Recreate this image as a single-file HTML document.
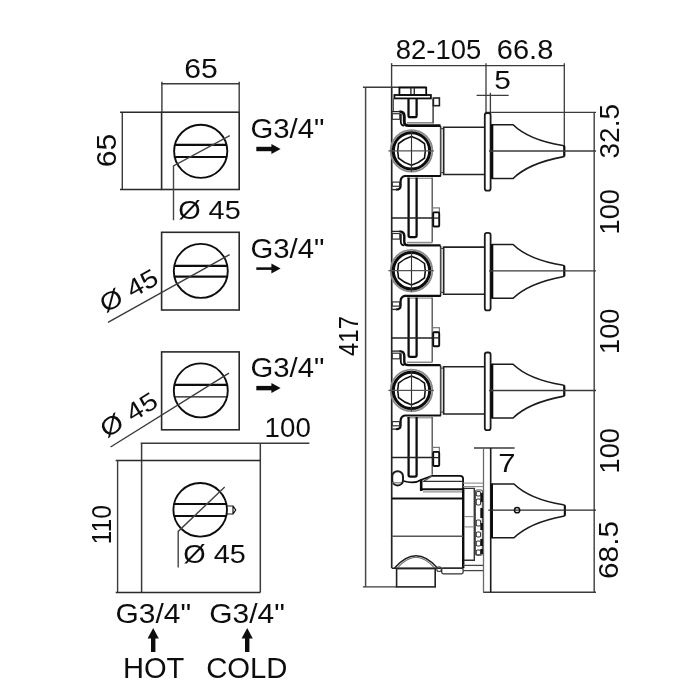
<!DOCTYPE html>
<html><head><meta charset="utf-8"><title>drawing</title>
<style>
html,body{margin:0;padding:0;background:#fff;width:700px;height:700px;overflow:hidden}
svg{display:block;will-change:transform}
text{font-family:"Liberation Sans",sans-serif;fill:#111}
</style></head><body>
<svg width="700" height="700" viewBox="0 0 700 700">
<defs><filter id="soft" x="0" y="0" width="700" height="700" filterUnits="userSpaceOnUse"><feGaussianBlur stdDeviation="0.42"/></filter></defs>
<rect x="0" y="0" width="700" height="700" fill="#fff"/>
<g filter="url(#soft)">
<rect x="161.6" y="112.2" width="77.6" height="77.3" rx="0" stroke="#2a2a2a" stroke-width="1.6" fill="none"/>
<line x1="161.9" y1="81.8" x2="161.9" y2="112.2" stroke="#3a3a3a" stroke-width="1.4" stroke-linecap="butt"/>
<line x1="239.2" y1="81.8" x2="239.2" y2="112.2" stroke="#3a3a3a" stroke-width="1.4" stroke-linecap="butt"/>
<line x1="161.2" y1="83.8" x2="239.9" y2="83.8" stroke="#3a3a3a" stroke-width="1.4" stroke-linecap="butt"/>
<line x1="122.3" y1="112.2" x2="122.3" y2="189.5" stroke="#3a3a3a" stroke-width="1.4" stroke-linecap="butt"/>
<line x1="120" y1="112.2" x2="161.6" y2="112.2" stroke="#2a2a2a" stroke-width="1.6" stroke-linecap="butt"/>
<line x1="120" y1="189.5" x2="161.6" y2="189.5" stroke="#2a2a2a" stroke-width="1.6" stroke-linecap="butt"/>
<text x="184.2" y="78" font-size="27" text-anchor="start" font-weight="normal" textLength="33.5" lengthAdjust="spacingAndGlyphs">65</text>
<text x="116" y="167.2" font-size="27" text-anchor="start" font-weight="normal" textLength="33.5" lengthAdjust="spacingAndGlyphs" transform="rotate(-90 116 167.2)">65</text>
<circle cx="200.7" cy="151.3" r="26.6" stroke="#111" stroke-width="1.9" fill="none"/>
<line x1="174.9" y1="144.9" x2="226.5" y2="144.9" stroke="#111" stroke-width="2.2" stroke-linecap="butt"/>
<line x1="174.7" y1="157.0" x2="226.7" y2="157.0" stroke="#111" stroke-width="2.2" stroke-linecap="butt"/>
<path d="M229.8,135.7 L173.5,166 L173.5,220.3" stroke="#444" stroke-width="1.4" fill="none" stroke-linejoin="miter" stroke-linecap="butt"/>
<text x="178.2" y="218.5" font-size="25" text-anchor="start" font-weight="normal" textLength="62.5" lengthAdjust="spacingAndGlyphs">&#216; 45</text>
<text x="250.4" y="137.9" font-size="28" text-anchor="start" font-weight="normal" textLength="74" lengthAdjust="spacingAndGlyphs">G3/4"</text>
<path d="M256.3,146.8 H272.90000000000003 V151.2 H256.3 Z" fill="#111"/>
<path d="M271.40000000000003,144 L280.6,149 L271.40000000000003,154 Z" fill="#111"/>
<text x="250.4" y="257.7" font-size="28" text-anchor="start" font-weight="normal" textLength="74" lengthAdjust="spacingAndGlyphs">G3/4"</text>
<path d="M256.3,267.3 H272.90000000000003 V269.90000000000003 H256.3 Z" fill="#111"/>
<path d="M271.40000000000003,263.6 L280.6,268.6 L271.40000000000003,273.6 Z" fill="#111"/>
<text x="250.4" y="376.8" font-size="28" text-anchor="start" font-weight="normal" textLength="74" lengthAdjust="spacingAndGlyphs">G3/4"</text>
<path d="M256.3,385.90000000000003 H272.90000000000003 V390.3 H256.3 Z" fill="#111"/>
<path d="M271.40000000000003,383.1 L280.6,388.1 L271.40000000000003,393.1 Z" fill="#111"/>
<rect x="161.6" y="232.3" width="77.6" height="77.7" rx="0" stroke="#2a2a2a" stroke-width="1.6" fill="none"/>
<circle cx="200.8" cy="270.9" r="27" stroke="#111" stroke-width="1.9" fill="none"/>
<line x1="174.3" y1="265.8" x2="227.3" y2="265.8" stroke="#111" stroke-width="2.2" stroke-linecap="butt"/>
<line x1="174.4" y1="276.6" x2="227.2" y2="276.6" stroke="#111" stroke-width="2.2" stroke-linecap="butt"/>
<line x1="229.6" y1="254.7" x2="108" y2="322.3" stroke="#3a3a3a" stroke-width="1.4" stroke-linecap="butt"/>
<g transform="translate(128.6,290.7) rotate(-29)">
<text x="-31" y="8.5" font-size="25" text-anchor="start" font-weight="normal" textLength="62.5" lengthAdjust="spacingAndGlyphs">&#216; 45</text>
</g>
<rect x="161.6" y="351.9" width="77.6" height="77.9" rx="0" stroke="#2a2a2a" stroke-width="1.6" fill="none"/>
<circle cx="200.8" cy="390.4" r="27" stroke="#111" stroke-width="1.9" fill="none"/>
<line x1="174.4" y1="384.8" x2="227.2" y2="384.8" stroke="#111" stroke-width="2.2" stroke-linecap="butt"/>
<line x1="174.6" y1="396.9" x2="227.0" y2="396.9" stroke="#111" stroke-width="1.1" stroke-linecap="butt"/>
<line x1="228.9" y1="373.2" x2="110.6" y2="447" stroke="#3a3a3a" stroke-width="1.4" stroke-linecap="butt"/>
<g transform="translate(128.6,414.9) rotate(-32)">
<text x="-31" y="8.5" font-size="25" text-anchor="start" font-weight="normal" textLength="62.5" lengthAdjust="spacingAndGlyphs">&#216; 45</text>
</g>
<line x1="140.7" y1="443.3" x2="309.4" y2="443.3" stroke="#3a3a3a" stroke-width="1.4" stroke-linecap="butt"/>
<line x1="141.6" y1="443.3" x2="141.6" y2="592.5" stroke="#3a3a3a" stroke-width="1.5" stroke-linecap="butt"/>
<line x1="260.3" y1="443.3" x2="260.3" y2="592.5" stroke="#3a3a3a" stroke-width="1.5" stroke-linecap="butt"/>
<line x1="115.7" y1="460.5" x2="260.3" y2="460.5" stroke="#2a2a2a" stroke-width="1.5" stroke-linecap="butt"/>
<line x1="115.7" y1="592.5" x2="260.3" y2="592.5" stroke="#2a2a2a" stroke-width="1.5" stroke-linecap="butt"/>
<line x1="117.6" y1="460.5" x2="117.6" y2="592.5" stroke="#3a3a3a" stroke-width="1.4" stroke-linecap="butt"/>
<text x="264.6" y="436.8" font-size="27" text-anchor="start" font-weight="normal" textLength="46.2" lengthAdjust="spacingAndGlyphs">100</text>
<text x="110.8" y="544.4" font-size="27" text-anchor="start" font-weight="normal" textLength="39.5" lengthAdjust="spacingAndGlyphs" transform="rotate(-90 110.8 544.4)">110</text>
<circle cx="200.2" cy="509.8" r="26.8" stroke="#111" stroke-width="1.9" fill="none"/>
<line x1="174.0" y1="504" x2="226.4" y2="504" stroke="#111" stroke-width="2.2" stroke-linecap="butt"/>
<line x1="174.1" y1="516" x2="226.3" y2="516" stroke="#111" stroke-width="2.2" stroke-linecap="butt"/>
<path d="M227,506 H233 L235.7,510 L233,514 H227 M233,506 V514" stroke="#111" stroke-width="1.2" fill="none" stroke-linejoin="miter" stroke-linecap="butt"/>
<path d="M224.7,486.9 L178.2,531.4 L178.2,567.5" stroke="#444" stroke-width="1.4" fill="none" stroke-linejoin="miter" stroke-linecap="butt"/>
<text x="183.3" y="563.3" font-size="25" text-anchor="start" font-weight="normal" textLength="62.5" lengthAdjust="spacingAndGlyphs">&#216; 45</text>
<text x="115.6" y="622.8" font-size="28" text-anchor="start" font-weight="normal" textLength="75.5" lengthAdjust="spacingAndGlyphs">G3/4"</text>
<text x="209.3" y="622.8" font-size="28" text-anchor="start" font-weight="normal" textLength="75.5" lengthAdjust="spacingAndGlyphs">G3/4"</text>
<path d="M151.0,652 V636 H155.39999999999998 V652 Z" fill="#111"/>
<path d="M147.6,638.5 L153.2,628 L158.79999999999998,638.5 Z" fill="#111"/>
<path d="M245.0,652 V636 H249.39999999999998 V652 Z" fill="#111"/>
<path d="M241.6,638.5 L247.2,628 L252.79999999999998,638.5 Z" fill="#111"/>
<text x="122.9" y="677.7" font-size="29.5" text-anchor="start" font-weight="normal" textLength="61.4" lengthAdjust="spacingAndGlyphs">HOT</text>
<text x="206.2" y="677.7" font-size="29.5" text-anchor="start" font-weight="normal" textLength="81.3" lengthAdjust="spacingAndGlyphs">COLD</text>
<line x1="391.3" y1="65.6" x2="564.6" y2="65.6" stroke="#3a3a3a" stroke-width="1.4" stroke-linecap="butt"/>
<line x1="391.6" y1="63.2" x2="391.6" y2="88" stroke="#3a3a3a" stroke-width="1.4" stroke-linecap="butt"/>
<line x1="486.0" y1="63.2" x2="486.0" y2="113" stroke="#3a3a3a" stroke-width="1.3" stroke-linecap="butt"/>
<line x1="564.3" y1="63.2" x2="564.3" y2="146" stroke="#3a3a3a" stroke-width="1.3" stroke-linecap="butt"/>
<text x="395.8" y="59" font-size="27" text-anchor="start" font-weight="normal" textLength="85.5" lengthAdjust="spacingAndGlyphs">82-105</text>
<text x="496.8" y="59" font-size="27" text-anchor="start" font-weight="normal" textLength="56.5" lengthAdjust="spacingAndGlyphs">66.8</text>
<line x1="476.6" y1="95.4" x2="508.6" y2="95.4" stroke="#3a3a3a" stroke-width="1.3" stroke-linecap="butt"/>
<line x1="490.4" y1="92.8" x2="490.4" y2="113" stroke="#3a3a3a" stroke-width="1.3" stroke-linecap="butt"/>
<text x="494.3" y="88.8" font-size="26.5" text-anchor="start" font-weight="normal" textLength="16.6" lengthAdjust="spacingAndGlyphs">5</text>
<line x1="362.9" y1="87.3" x2="426" y2="87.3" stroke="#3a3a3a" stroke-width="1.4" stroke-linecap="butt"/>
<line x1="365.6" y1="87.3" x2="365.6" y2="586.9" stroke="#4a4a4a" stroke-width="1.5" stroke-linecap="butt"/>
<line x1="362.9" y1="586.9" x2="396.6" y2="586.9" stroke="#3a3a3a" stroke-width="1.4" stroke-linecap="butt"/>
<text x="358" y="356" font-size="27" text-anchor="start" font-weight="normal" textLength="40" lengthAdjust="spacingAndGlyphs" transform="rotate(-90 358 356)">417</text>
<line x1="594.2" y1="112.2" x2="594.2" y2="592.2" stroke="#4a4a4a" stroke-width="1.5" stroke-linecap="butt"/>
<line x1="486" y1="112.4" x2="596" y2="112.4" stroke="#3a3a3a" stroke-width="1.4" stroke-linecap="butt"/>
<line x1="483.2" y1="592.2" x2="596" y2="592.2" stroke="#3a3a3a" stroke-width="1.4" stroke-linecap="butt"/>
<text x="619" y="158.5" font-size="27" text-anchor="start" font-weight="normal" textLength="54.5" lengthAdjust="spacingAndGlyphs" transform="rotate(-90 619 158.5)">32.5</text>
<text x="618.6" y="234.5" font-size="27" text-anchor="start" font-weight="normal" textLength="45.5" lengthAdjust="spacingAndGlyphs" transform="rotate(-90 618.6 234.5)">100</text>
<text x="618.6" y="354" font-size="27" text-anchor="start" font-weight="normal" textLength="45.5" lengthAdjust="spacingAndGlyphs" transform="rotate(-90 618.6 354)">100</text>
<text x="618.6" y="473.5" font-size="27" text-anchor="start" font-weight="normal" textLength="45.5" lengthAdjust="spacingAndGlyphs" transform="rotate(-90 618.6 473.5)">100</text>
<text x="618.2" y="579" font-size="27" text-anchor="start" font-weight="normal" textLength="58" lengthAdjust="spacingAndGlyphs" transform="rotate(-90 618.2 579)">68.5</text>
<line x1="391.7" y1="88" x2="391.7" y2="568" stroke="#222" stroke-width="1.7" stroke-linecap="butt"/>
<line x1="440.6" y1="125.9" x2="440.6" y2="176.3" stroke="#2a2a2a" stroke-width="1.5" stroke-linecap="butt"/>
<line x1="392" y1="111.60000000000001" x2="400" y2="111.60000000000001" stroke="#222" stroke-width="1.3" stroke-linecap="butt"/>
<path d="M399.5,111.60000000000001 Q404.3,111.60000000000001 404.3,116.5 V121.9 Q404.3,125.60000000000001 408.5,125.60000000000001 H440.6" stroke="#111" stroke-width="2.9" fill="none" stroke-linejoin="round" stroke-linecap="butt"/>
<path d="M400.8,113.7 V121.9 Q400.8,125.30000000000001 404.3,125.60000000000001" stroke="#111" stroke-width="1.8" fill="none" stroke-linejoin="miter" stroke-linecap="butt"/>
<rect x="392.2" y="113.7" width="7.6" height="5.6" rx="0" stroke="#333" stroke-width="1.2" fill="none"/>
<line x1="407" y1="122.80000000000001" x2="432.6" y2="122.80000000000001" stroke="#8a8a8a" stroke-width="1.6" stroke-linecap="butt"/>
<path d="M440.8,176.0 H404.8 Q400.6,176.9 400.6,181.4 V185.9 Q400.6,189.60000000000002 396,189.60000000000002" stroke="#111" stroke-width="2.2" fill="none" stroke-linejoin="round" stroke-linecap="butt"/>
<line x1="392" y1="189.60000000000002" x2="396.5" y2="189.60000000000002" stroke="#333" stroke-width="1.4" stroke-linecap="butt"/>
<rect x="392.2" y="182.1" width="7.4" height="4.2" rx="0" stroke="#333" stroke-width="1.2" fill="none"/>
<line x1="407" y1="178.3" x2="432" y2="178.3" stroke="#8a8a8a" stroke-width="1.2" stroke-linecap="butt"/>
<rect x="440.6" y="128.6" width="3.0" height="44.0" rx="0" stroke="#484848" stroke-width="1.2" fill="none"/>
<path d="M484.6,127.30000000000001 H443.6 V174.5 H484.6" stroke="#222" stroke-width="1.6" fill="none" stroke-linejoin="miter" stroke-linecap="butt"/>
<circle cx="411.5" cy="150.9" r="20.8" stroke="#8a8a8a" stroke-width="1.8" fill="none"/>
<circle cx="411.5" cy="150.9" r="18.2" stroke="#111" stroke-width="3.0" fill="none"/>
<path d="M411.5,136.5 Q418.8,138.7 424.5,143.7 Q426.1,150.9 424.5,158.1 Q418.8,163.1 411.5,165.3 Q404.2,163.1 398.5,158.1 Q396.9,150.9 398.5,143.7 Q404.2,138.7 411.5,136.5 Z" stroke="#111" stroke-width="1.6" fill="none" stroke-linejoin="round" stroke-linecap="butt"/>
<line x1="388.4" y1="150.9" x2="433.8" y2="150.9" stroke="#555" stroke-width="1.3" stroke-linecap="butt"/>
<line x1="411.5" y1="131.4" x2="411.5" y2="171.9" stroke="#333" stroke-width="1.1" stroke-linecap="butt"/>
<rect x="484.8" y="113.0" width="5.8" height="77.6" rx="2.2" stroke="#1a1a1a" stroke-width="1.8" fill="none"/>
<path d="M492.1,124.7 H513.1 Q528.6,139.9 562.8,145.5 Q564.3,145.5 564.3,147.0 V155.4 Q564.3,156.9 562.8,156.9 Q528.6,163.3 513.1,178.5 H492.1" stroke="#1a1a1a" stroke-width="1.6" fill="none" stroke-linejoin="round" stroke-linecap="butt"/>
<line x1="492.1" y1="124.2" x2="492.1" y2="179.0" stroke="#111" stroke-width="2.4" stroke-linecap="butt"/>
<line x1="564.3" y1="146.0" x2="564.3" y2="156.4" stroke="#111" stroke-width="2.0" stroke-linecap="butt"/>
<line x1="489" y1="151.0" x2="596" y2="151.0" stroke="#3a3a3a" stroke-width="1.3" stroke-linecap="butt"/>
<path d="M408.6,177.6 V235.5 Q408.6,237.10000000000002 410.2,237.10000000000002 H415 Q416.6,237.10000000000002 416.6,235.5 V177.6" stroke="#111" stroke-width="2.3" fill="none" stroke-linejoin="miter" stroke-linecap="butt"/>
<line x1="432.2" y1="177.6" x2="432.2" y2="242.10000000000002" stroke="#4a4a4a" stroke-width="1.3" stroke-linecap="butt"/>
<line x1="391.7" y1="218.10000000000002" x2="432.2" y2="218.10000000000002" stroke="#222" stroke-width="1.5" stroke-linecap="butt"/>
<rect x="432.6" y="207.9" width="6.8" height="4.5" rx="0" stroke="#777" stroke-width="1.2" fill="none"/>
<rect x="433.2" y="212.4" width="6.0" height="14.1" rx="1" stroke="#111" stroke-width="1.9" fill="none"/>
<line x1="432.2" y1="218.10000000000002" x2="439.4" y2="218.10000000000002" stroke="#222" stroke-width="1.3" stroke-linecap="butt"/>
<line x1="440.6" y1="245.7" x2="440.6" y2="296.09999999999997" stroke="#2a2a2a" stroke-width="1.5" stroke-linecap="butt"/>
<line x1="392" y1="231.39999999999998" x2="400" y2="231.39999999999998" stroke="#222" stroke-width="1.3" stroke-linecap="butt"/>
<path d="M399.5,231.39999999999998 Q404.3,231.39999999999998 404.3,236.29999999999998 V241.7 Q404.3,245.39999999999998 408.5,245.39999999999998 H440.6" stroke="#111" stroke-width="2.4" fill="none" stroke-linejoin="round" stroke-linecap="butt"/>
<path d="M400.8,233.5 V241.7 Q400.8,245.1 404.3,245.39999999999998" stroke="#111" stroke-width="1.8" fill="none" stroke-linejoin="miter" stroke-linecap="butt"/>
<rect x="392.2" y="233.5" width="7.6" height="5.6" rx="0" stroke="#333" stroke-width="1.2" fill="none"/>
<line x1="407" y1="242.6" x2="432.6" y2="242.6" stroke="#8a8a8a" stroke-width="1.6" stroke-linecap="butt"/>
<path d="M440.8,295.8 H404.8 Q400.6,296.7 400.6,301.2 V305.7 Q400.6,309.4 396,309.4" stroke="#111" stroke-width="2.2" fill="none" stroke-linejoin="round" stroke-linecap="butt"/>
<line x1="392" y1="309.4" x2="396.5" y2="309.4" stroke="#333" stroke-width="1.4" stroke-linecap="butt"/>
<rect x="392.2" y="301.9" width="7.4" height="4.2" rx="0" stroke="#333" stroke-width="1.2" fill="none"/>
<line x1="407" y1="298.09999999999997" x2="432" y2="298.09999999999997" stroke="#8a8a8a" stroke-width="1.2" stroke-linecap="butt"/>
<rect x="440.6" y="248.39999999999998" width="3.0" height="44.0" rx="0" stroke="#484848" stroke-width="1.2" fill="none"/>
<path d="M484.6,247.1 H443.6 V294.3 H484.6" stroke="#222" stroke-width="1.6" fill="none" stroke-linejoin="miter" stroke-linecap="butt"/>
<circle cx="411.5" cy="270.7" r="20.8" stroke="#8a8a8a" stroke-width="1.8" fill="none"/>
<circle cx="411.5" cy="270.7" r="18.2" stroke="#111" stroke-width="3.0" fill="none"/>
<path d="M411.5,256.3 Q418.8,258.5 424.5,263.5 Q426.1,270.7 424.5,277.9 Q418.8,282.9 411.5,285.1 Q404.2,282.9 398.5,277.9 Q396.9,270.7 398.5,263.5 Q404.2,258.5 411.5,256.3 Z" stroke="#111" stroke-width="1.6" fill="none" stroke-linejoin="round" stroke-linecap="butt"/>
<line x1="388.4" y1="270.7" x2="433.8" y2="270.7" stroke="#555" stroke-width="1.3" stroke-linecap="butt"/>
<line x1="411.5" y1="251.2" x2="411.5" y2="291.7" stroke="#333" stroke-width="1.1" stroke-linecap="butt"/>
<rect x="484.8" y="232.79999999999998" width="5.8" height="77.6" rx="2.2" stroke="#1a1a1a" stroke-width="1.8" fill="none"/>
<path d="M492.1,244.5 H513.1 Q528.6,259.7 562.8,265.3 Q564.3,265.3 564.3,266.8 V275.2 Q564.3,276.7 562.8,276.7 Q528.6,283.1 513.1,298.3 H492.1" stroke="#1a1a1a" stroke-width="1.6" fill="none" stroke-linejoin="round" stroke-linecap="butt"/>
<line x1="492.1" y1="244.0" x2="492.1" y2="298.8" stroke="#111" stroke-width="2.4" stroke-linecap="butt"/>
<line x1="564.3" y1="265.8" x2="564.3" y2="276.2" stroke="#111" stroke-width="2.0" stroke-linecap="butt"/>
<line x1="489" y1="270.8" x2="596" y2="270.8" stroke="#3a3a3a" stroke-width="1.3" stroke-linecap="butt"/>
<path d="M408.6,297.4 V355.29999999999995 Q408.6,356.9 410.2,356.9 H415 Q416.6,356.9 416.6,355.29999999999995 V297.4" stroke="#111" stroke-width="2.3" fill="none" stroke-linejoin="miter" stroke-linecap="butt"/>
<line x1="432.2" y1="297.4" x2="432.2" y2="361.9" stroke="#4a4a4a" stroke-width="1.3" stroke-linecap="butt"/>
<line x1="391.7" y1="337.9" x2="432.2" y2="337.9" stroke="#222" stroke-width="1.5" stroke-linecap="butt"/>
<rect x="432.6" y="327.7" width="6.8" height="4.5" rx="0" stroke="#777" stroke-width="1.2" fill="none"/>
<rect x="433.2" y="332.2" width="6.0" height="14.1" rx="1" stroke="#111" stroke-width="1.9" fill="none"/>
<line x1="432.2" y1="337.9" x2="439.4" y2="337.9" stroke="#222" stroke-width="1.3" stroke-linecap="butt"/>
<line x1="440.6" y1="365.4" x2="440.6" y2="415.79999999999995" stroke="#2a2a2a" stroke-width="1.5" stroke-linecap="butt"/>
<line x1="392" y1="351.09999999999997" x2="400" y2="351.09999999999997" stroke="#222" stroke-width="1.3" stroke-linecap="butt"/>
<path d="M399.5,351.09999999999997 Q404.3,351.09999999999997 404.3,356.0 V361.4 Q404.3,365.09999999999997 408.5,365.09999999999997 H440.6" stroke="#111" stroke-width="2.4" fill="none" stroke-linejoin="round" stroke-linecap="butt"/>
<path d="M400.8,353.2 V361.4 Q400.8,364.79999999999995 404.3,365.09999999999997" stroke="#111" stroke-width="1.8" fill="none" stroke-linejoin="miter" stroke-linecap="butt"/>
<rect x="392.2" y="353.2" width="7.6" height="5.6" rx="0" stroke="#333" stroke-width="1.2" fill="none"/>
<line x1="407" y1="362.29999999999995" x2="432.6" y2="362.29999999999995" stroke="#8a8a8a" stroke-width="1.6" stroke-linecap="butt"/>
<path d="M440.8,415.5 H404.8 Q400.6,416.4 400.6,420.9 V425.4 Q400.6,429.09999999999997 396,429.09999999999997" stroke="#111" stroke-width="2.2" fill="none" stroke-linejoin="round" stroke-linecap="butt"/>
<line x1="392" y1="429.09999999999997" x2="396.5" y2="429.09999999999997" stroke="#333" stroke-width="1.4" stroke-linecap="butt"/>
<rect x="392.2" y="421.59999999999997" width="7.4" height="4.2" rx="0" stroke="#333" stroke-width="1.2" fill="none"/>
<line x1="407" y1="417.79999999999995" x2="432" y2="417.79999999999995" stroke="#8a8a8a" stroke-width="1.2" stroke-linecap="butt"/>
<rect x="440.6" y="368.09999999999997" width="3.0" height="44.0" rx="0" stroke="#484848" stroke-width="1.2" fill="none"/>
<path d="M484.6,366.79999999999995 H443.6 V414.0 H484.6" stroke="#222" stroke-width="1.6" fill="none" stroke-linejoin="miter" stroke-linecap="butt"/>
<circle cx="411.5" cy="390.4" r="20.8" stroke="#8a8a8a" stroke-width="1.8" fill="none"/>
<circle cx="411.5" cy="390.4" r="18.2" stroke="#111" stroke-width="3.0" fill="none"/>
<path d="M411.5,376.0 Q418.8,378.2 424.5,383.2 Q426.1,390.4 424.5,397.6 Q418.8,402.6 411.5,404.8 Q404.2,402.6 398.5,397.6 Q396.9,390.4 398.5,383.2 Q404.2,378.2 411.5,376.0 Z" stroke="#111" stroke-width="1.6" fill="none" stroke-linejoin="round" stroke-linecap="butt"/>
<line x1="388.4" y1="390.4" x2="433.8" y2="390.4" stroke="#555" stroke-width="1.3" stroke-linecap="butt"/>
<line x1="411.5" y1="370.9" x2="411.5" y2="411.4" stroke="#333" stroke-width="1.1" stroke-linecap="butt"/>
<rect x="484.8" y="352.5" width="5.8" height="77.6" rx="2.2" stroke="#1a1a1a" stroke-width="1.8" fill="none"/>
<path d="M492.1,364.2 H513.1 Q528.6,379.4 562.8,385.0 Q564.3,385.0 564.3,386.5 V394.9 Q564.3,396.4 562.8,396.4 Q528.6,402.8 513.1,418.0 H492.1" stroke="#1a1a1a" stroke-width="1.6" fill="none" stroke-linejoin="round" stroke-linecap="butt"/>
<line x1="492.1" y1="363.7" x2="492.1" y2="418.5" stroke="#111" stroke-width="2.4" stroke-linecap="butt"/>
<line x1="564.3" y1="385.5" x2="564.3" y2="395.9" stroke="#111" stroke-width="2.0" stroke-linecap="butt"/>
<line x1="489" y1="390.5" x2="596" y2="390.5" stroke="#3a3a3a" stroke-width="1.3" stroke-linecap="butt"/>
<path d="M408.6,417.09999999999997 V475.0 Q408.6,476.59999999999997 410.2,476.59999999999997 H415 Q416.6,476.59999999999997 416.6,475.0 V417.09999999999997" stroke="#111" stroke-width="2.3" fill="none" stroke-linejoin="miter" stroke-linecap="butt"/>
<line x1="432.2" y1="417.09999999999997" x2="432.2" y2="474.79999999999995" stroke="#4a4a4a" stroke-width="1.3" stroke-linecap="butt"/>
<line x1="391.7" y1="457.59999999999997" x2="432.2" y2="457.59999999999997" stroke="#222" stroke-width="1.5" stroke-linecap="butt"/>
<rect x="432.6" y="447.4" width="6.8" height="4.5" rx="0" stroke="#777" stroke-width="1.2" fill="none"/>
<rect x="433.2" y="451.9" width="6.0" height="14.1" rx="1" stroke="#111" stroke-width="1.9" fill="none"/>
<line x1="432.2" y1="457.59999999999997" x2="439.4" y2="457.59999999999997" stroke="#222" stroke-width="1.3" stroke-linecap="butt"/>
<rect x="399.4" y="87.6" width="26.8" height="7.4" rx="0" stroke="#111" stroke-width="1.8" fill="none"/>
<line x1="410.9" y1="87.6" x2="410.9" y2="95" stroke="#222" stroke-width="1.3" stroke-linecap="butt"/>
<line x1="414.3" y1="87.6" x2="414.3" y2="95" stroke="#222" stroke-width="1.3" stroke-linecap="butt"/>
<rect x="394.4" y="95" width="36.5" height="3.4" rx="0" stroke="#111" stroke-width="1.8" fill="none"/>
<path d="M408.5,98.4 V115.4 Q408.5,117.1 410.2,117.1 H414.9 Q416.6,117.1 416.6,115.4 V98.4" stroke="#111" stroke-width="2.3" fill="none" stroke-linejoin="miter" stroke-linecap="butt"/>
<line x1="433.1" y1="98.4" x2="433.1" y2="123.6" stroke="#333" stroke-width="1.4" stroke-linecap="butt"/>
<line x1="393.4" y1="98.4" x2="393.4" y2="111" stroke="#555" stroke-width="1.2" stroke-linecap="butt"/>
<rect x="433.4" y="98" width="6.0" height="7.7" rx="0" stroke="#222" stroke-width="1.6" fill="none"/>
<line x1="474" y1="448" x2="514.6" y2="448" stroke="#3a3a3a" stroke-width="1.4" stroke-linecap="butt"/>
<text x="498.2" y="471.6" font-size="26.5" text-anchor="start" font-weight="normal" textLength="17.3" lengthAdjust="spacingAndGlyphs">7</text>
<line x1="483.5" y1="447.9" x2="483.5" y2="592.2" stroke="#6a6a6a" stroke-width="1.3" stroke-linecap="butt"/>
<line x1="490.7" y1="447.9" x2="490.7" y2="592.2" stroke="#1a1a1a" stroke-width="1.6" stroke-linecap="butt"/>
<path d="M491.8,484.0 H514 Q529.5,499.2 563.3,504.8 Q564.8,504.8 564.8,506.3 V514.7 Q564.8,516.2 563.3,516.2 Q529.5,522.5999999999999 514,537.8 H491.8" stroke="#1a1a1a" stroke-width="1.6" fill="none" stroke-linejoin="round" stroke-linecap="butt"/>
<line x1="491.8" y1="483.5" x2="491.8" y2="538.3" stroke="#111" stroke-width="2.4" stroke-linecap="butt"/>
<line x1="564.8" y1="505.3" x2="564.8" y2="515.7" stroke="#111" stroke-width="2.0" stroke-linecap="butt"/>
<line x1="488.3" y1="510.2" x2="596" y2="510.2" stroke="#2a2a2a" stroke-width="1.3" stroke-linecap="butt"/>
<circle cx="517.1" cy="510.2" r="2.6" stroke="#111" stroke-width="1.5" fill="none"/>
<rect x="392.2" y="471.3" width="10.8" height="14.1" rx="5.2" stroke="#1a1a1a" stroke-width="2.0" fill="none"/>
<line x1="392" y1="482.8" x2="401" y2="482.8" stroke="#777" stroke-width="1.2" stroke-linecap="butt"/>
<path d="M403.5,481 Q414,484.5 422,479.5 L432,475.9 H460 Q463.1,475.9 463.1,479 V488" stroke="#111" stroke-width="1.8" fill="none" stroke-linejoin="round" stroke-linecap="butt"/>
<path d="M432,475.9 L424,481.2" stroke="#555" stroke-width="1.4" fill="none" stroke-linejoin="miter" stroke-linecap="butt"/>
<line x1="422.9" y1="481.4" x2="463.1" y2="481.4" stroke="#333" stroke-width="1.4" stroke-linecap="butt"/>
<line x1="421.2" y1="479.5" x2="421.2" y2="491" stroke="#111" stroke-width="2.6" stroke-linecap="butt"/>
<line x1="421.2" y1="489.3" x2="462.6" y2="489.3" stroke="#111" stroke-width="2.0" stroke-linecap="butt"/>
<line x1="423" y1="491.9" x2="462" y2="491.9" stroke="#777" stroke-width="1.0" stroke-linecap="butt"/>
<line x1="391.7" y1="498.4" x2="462.5" y2="498.4" stroke="#111" stroke-width="2.0" stroke-linecap="butt"/>
<line x1="463.2" y1="487.6" x2="463.2" y2="568.2" stroke="#111" stroke-width="2.4" stroke-linecap="butt"/>
<line x1="391.7" y1="536.3" x2="463" y2="536.3" stroke="#555" stroke-width="1.5" stroke-linecap="butt"/>
<line x1="391.7" y1="568.2" x2="463.2" y2="568.2" stroke="#222" stroke-width="1.6" stroke-linecap="butt"/>
<path d="M394.6,568 Q416,543.5 437.4,568" stroke="#222" stroke-width="1.5" fill="none" stroke-linejoin="miter" stroke-linecap="butt"/>
<path d="M397.5,568 Q416,546.5 434.5,568" stroke="#666" stroke-width="1.1" fill="none" stroke-linejoin="miter" stroke-linecap="butt"/>
<rect x="396.6" y="568.6" width="38.6" height="18.3" rx="0" stroke="#222" stroke-width="1.6" fill="none"/>
<circle cx="439.1" cy="569.2" r="2.3" stroke="#444" stroke-width="1.2" fill="none"/>
<rect x="441.7" y="568.2" width="21.4" height="5.6" rx="1.5" stroke="#333" stroke-width="1.3" fill="none"/>
<path d="M464,488.4 H474.3 V560.3 H464" stroke="#333" stroke-width="1.4" fill="none" stroke-linejoin="miter" stroke-linecap="butt"/>
<line x1="464" y1="516.6" x2="474.3" y2="516.6" stroke="#888" stroke-width="1.1" stroke-linecap="butt"/>
<line x1="464" y1="526.9" x2="474.3" y2="526.9" stroke="#888" stroke-width="1.1" stroke-linecap="butt"/>
<line x1="463" y1="483.1" x2="483.2" y2="483.1" stroke="#888" stroke-width="1.1" stroke-linecap="butt"/>
<line x1="463" y1="486.6" x2="483.2" y2="486.6" stroke="#888" stroke-width="1.1" stroke-linecap="butt"/>
<line x1="463.2" y1="565.4" x2="483.2" y2="565.4" stroke="#444" stroke-width="1.3" stroke-linecap="butt"/>
<line x1="463.2" y1="570.6" x2="483.2" y2="570.6" stroke="#444" stroke-width="1.3" stroke-linecap="butt"/>
<rect x="475.4" y="490" width="7.0" height="65.2" rx="1.5" stroke="#555" stroke-width="1.2" fill="none"/>
<line x1="481.6" y1="493" x2="481.6" y2="502" stroke="#111" stroke-width="2.6" stroke-linecap="butt"/>
<line x1="481.6" y1="508" x2="481.6" y2="518" stroke="#111" stroke-width="2.6" stroke-linecap="butt"/>
<line x1="481.6" y1="523" x2="481.6" y2="530" stroke="#111" stroke-width="2.6" stroke-linecap="butt"/>
<line x1="481.6" y1="539" x2="481.6" y2="546" stroke="#111" stroke-width="2.6" stroke-linecap="butt"/>
<line x1="481.6" y1="549" x2="481.6" y2="554" stroke="#111" stroke-width="2.6" stroke-linecap="butt"/>
<rect x="476.2" y="491.5" width="4.4" height="4.5" rx="1.4" stroke="#333" stroke-width="1.1" fill="none"/>
<rect x="476.2" y="499" width="4.4" height="6" rx="1.4" stroke="#333" stroke-width="1.1" fill="none"/>
<rect x="476.2" y="520" width="4.4" height="6" rx="1.4" stroke="#333" stroke-width="1.1" fill="none"/>
<rect x="476.2" y="532" width="4.4" height="5" rx="1.4" stroke="#333" stroke-width="1.1" fill="none"/>
<rect x="476.2" y="541" width="4.4" height="5" rx="1.4" stroke="#333" stroke-width="1.1" fill="none"/>
<rect x="476.2" y="550" width="4.4" height="5" rx="1.4" stroke="#333" stroke-width="1.1" fill="none"/>
</g>
</svg>
</body></html>
